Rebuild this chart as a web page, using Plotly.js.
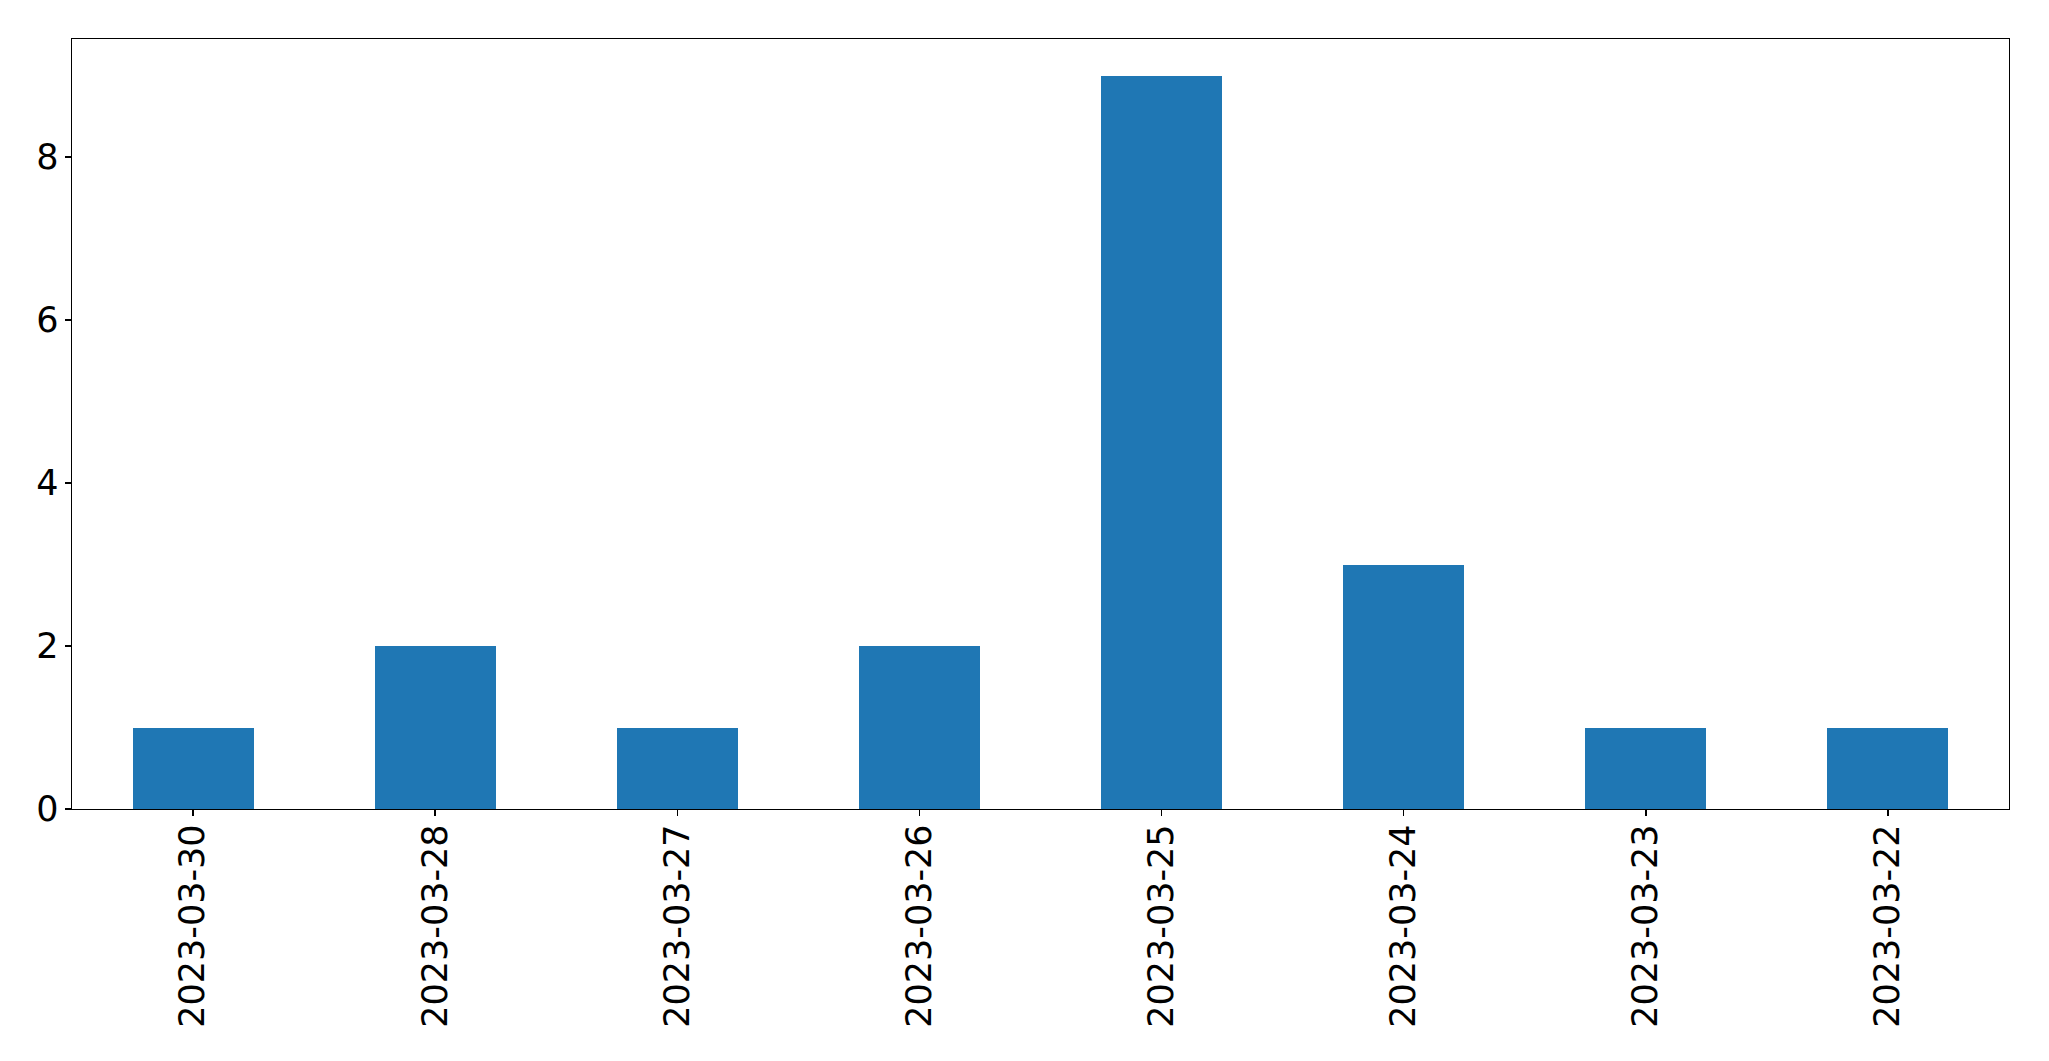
<!DOCTYPE html>
<html>
<head>
<meta charset="utf-8">
<script src="https://cdn.plot.ly/plotly-3.0.1.min.js"></script>
<style>html,body{margin:0;padding:0;background:#fff;}#chart{width:2049px;height:1061px;}</style>
</head>
<body>
<div id="chart"></div>
<script>
const categories = ["2023-03-30","2023-03-28","2023-03-27","2023-03-26","2023-03-25","2023-03-24","2023-03-23","2023-03-22"];
const counts = [1, 2, 1, 2, 9, 3, 1, 1];
const yTicks = [0, 2, 4, 6, 8];

const trace = {
  type: "bar",
  x: categories,
  y: counts,
  width: 0.5,
  marker: {color: "#1f77b4", line: {width: 0}},
  hoverinfo: "x+y"
};

const axisCommon = {
  showline: true, linecolor: "#000", linewidth: 1.4, mirror: true,
  ticks: "outside", ticklen: 6, tickwidth: 1.4, tickcolor: "#000",
  showgrid: false, zeroline: false,
  tickfont: {family: "DejaVu Sans", size: 35, color: "#000"}
};

const layout = {
  width: 2049, height: 1061,
  margin: {l: 72, r: 40, t: 39, b: 252, pad: 0},
  paper_bgcolor: "#fff", plot_bgcolor: "#fff",
  showlegend: false,
  bargap: 0,
  xaxis: Object.assign({}, axisCommon, {
    type: "category", tickangle: -90, range: [-0.5, categories.length - 0.5],
    ticklabelstandoff: -6
  }),
  yaxis: Object.assign({}, axisCommon, {
    range: [0, 9.45], tickvals: yTicks, ticktext: yTicks.map(String),
    ticklabelstandoff: -1
  })
};

Plotly.newPlot("chart", [trace], layout, {displayModeBar: false, staticPlot: true});
</script>
</body>
</html>
